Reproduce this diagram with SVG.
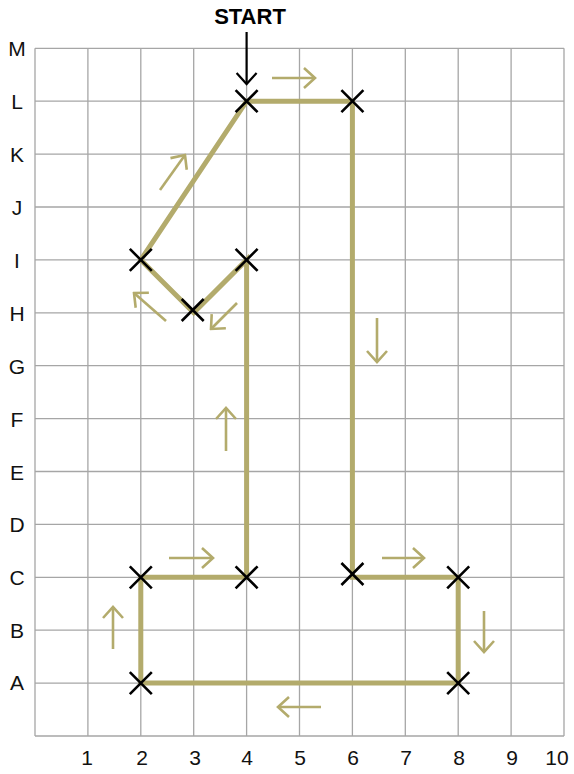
<svg xmlns="http://www.w3.org/2000/svg" width="574" height="774" viewBox="0 0 574 774">
<style>
.grid{stroke:#a6a6a6;stroke-width:1.3;fill:none}
.lbl{font-family:"Liberation Sans",Arial,sans-serif;font-size:21px;fill:#111;text-anchor:middle}
.route{stroke:#b3ab6c;stroke-width:5;fill:none;stroke-linejoin:miter}
.x{stroke:#000;stroke-width:2.6;fill:none}
.dir{stroke:#b3ab6c;stroke-width:2.6;fill:none;marker-end:url(#chev)}
</style>
<defs>
<marker id="chev" markerUnits="userSpaceOnUse" viewBox="-14 -12 16 24" markerWidth="16" markerHeight="24" refX="0" refY="0" orient="auto">
<path d="M-11,-10 L0,0 L-11,10" stroke="#b3ab6c" stroke-width="2.6" fill="none"/>
</marker>
<marker id="blk" markerUnits="userSpaceOnUse" viewBox="-14 -12 16 24" markerWidth="16" markerHeight="24" refX="0" refY="0" orient="auto">
<path d="M-11,-10 L0,0 L-11,10" stroke="#000" stroke-width="2.2" fill="none"/>
</marker>
</defs>
<rect width="574" height="774" fill="#fff"/>
<g id="grid" class="grid">
<path d="M35,48.3V736 M87.9,48.3V736 M140.8,48.3V736 M193.7,48.3V736 M246.6,48.3V736 M299.5,48.3V736 M352.4,48.3V736 M405.3,48.3V736 M458.2,48.3V736 M511.1,48.3V736 M564,48.3V736"/>
<path d="M35,48.3H564 M35,101.2H564 M35,154.1H564 M35,207H564 M35,259.9H564 M35,312.8H564 M35,365.7H564 M35,418.6H564 M35,471.5H564 M35,524.4H564 M35,577.3H564 M35,630.2H564 M35,683.1H564 M35,736H564"/>
</g>
<g id="row-labels" class="lbl">
<text x="17" y="56">M</text>
<text x="17" y="109">L</text>
<text x="17" y="162">K</text>
<text x="17" y="215">J</text>
<text x="17" y="268">I</text>
<text x="17" y="321">H</text>
<text x="17" y="374">G</text>
<text x="17" y="427">F</text>
<text x="17" y="480">E</text>
<text x="17" y="532">D</text>
<text x="17" y="585">C</text>
<text x="17" y="638">B</text>
<text x="17" y="690">A</text>
</g>
<g id="col-labels" class="lbl">
<text x="87" y="765">1</text>
<text x="142" y="765">2</text>
<text x="195" y="765">3</text>
<text x="247" y="765">4</text>
<text x="300" y="765">5</text>
<text x="353" y="765">6</text>
<text x="406" y="765">7</text>
<text x="459" y="765">8</text>
<text x="512" y="765">9</text>
<text x="557" y="765">10</text>
</g>
<g id="start">
<text x="250" y="24" style="font-family:'Liberation Sans',Arial,sans-serif;font-size:22px;font-weight:bold;fill:#000;text-anchor:middle">START</text>
<path d="M246.6,32V84" stroke="#000" stroke-width="2.2" fill="none" marker-end="url(#blk)"/>
</g>
<g id="connectors">
<path class="route" d="M246.6,101.2 H352.4 V577.3 H458.2 V683.1 H140.8 V577.3 H246.6 V259.9 L193.7,312.8 L140.8,259.9 Z"/>
<path class="dir" d="M272,78H315"/>
<path class="dir" d="M377,318V362"/>
<path class="dir" d="M382,558H424"/>
<path class="dir" d="M484,611V652"/>
<path class="dir" d="M321,707H278"/>
<path class="dir" d="M113,649V607"/>
<path class="dir" d="M169,558H213"/>
<path class="dir" d="M226,451V408"/>
<path class="dir" d="M237,303L211,329"/>
<path class="dir" d="M166,321L134,293"/>
<path class="dir" d="M160,190L185,155"/>
</g>
<g id="nodes" class="x">
<g id="n-L4"><path d="M235.6,90.2l22,22m0,-22l-22,22"/></g>
<g id="n-L6"><path d="M341.4,90.2l22,22m0,-22l-22,22"/></g>
<g id="n-C6"><path d="M341.4,563l22,22m0,-22l-22,22"/></g>
<g id="n-C8"><path d="M447.2,566.3l22,22m0,-22l-22,22"/></g>
<g id="n-A8"><path d="M447.2,672.1l22,22m0,-22l-22,22"/></g>
<g id="n-A2"><path d="M129.8,672.1l22,22m0,-22l-22,22"/></g>
<g id="n-C2"><path d="M129.8,566.3l22,22m0,-22l-22,22"/></g>
<g id="n-C4"><path d="M235.6,566.3l22,22m0,-22l-22,22"/></g>
<g id="n-I4"><path d="M235.6,248.9l22,22m0,-22l-22,22"/></g>
<g id="n-H3"><path d="M181.7,299l22,22m0,-22l-22,22"/></g>
<g id="n-I2"><path d="M129.8,248.9l22,22m0,-22l-22,22"/></g>
</g>
</svg>
